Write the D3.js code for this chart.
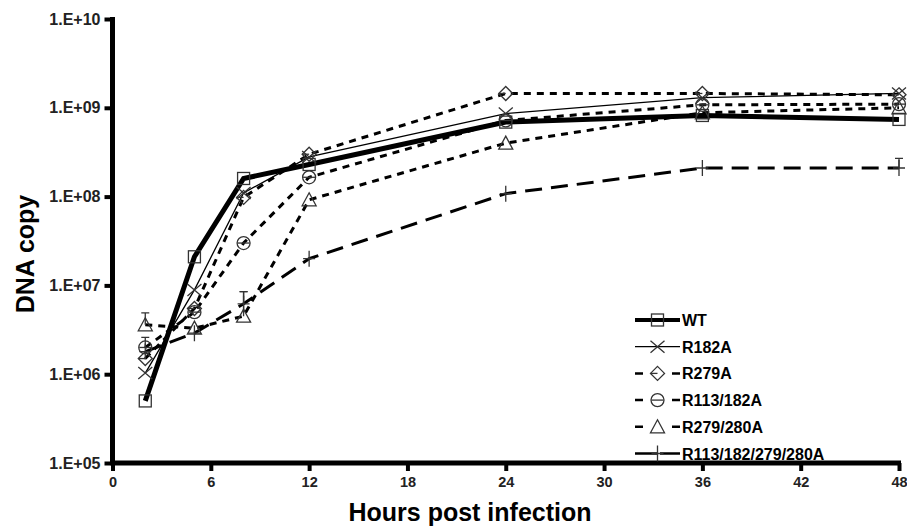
<!DOCTYPE html>
<html>
<head>
<meta charset="utf-8">
<script src="https://cdn.jsdelivr.net/npm/d3@7"></script>
<style>
  body { margin: 0; background: #fff; }
  svg text { font-family: "Liberation Sans", Arial, sans-serif; font-weight: bold; }
</style>
</head>
<body>
<div id="chart"></div>
<script>
// Hours post infection and DNA copy numbers
var hours = [2, 5, 8, 12, 24, 36, 48];

var wt        = [5.0e5, 2.1e7, 1.6e8, 2.3e8, 6.9e8, 8.2e8, 7.4e8];
var r182a     = [1.03e6, 8.9e6, 1.1e8, 2.8e8, 8.6e8, 1.3e9, 1.45e9];
var r279a     = [1.5e6, 5.5e6, 9.8e7, 3.0e8, 1.45e9, 1.45e9, 1.4e9];
var r113_182a = [2.0e6, 5.0e6, 3.0e7, 1.65e8, 7.2e8, 1.08e9, 1.1e9];
var r279_280a = [3.6e6, 3.3e6, 4.5e6, 9.2e7, 4.0e8, 8.8e8, 1.0e9];
var quad      = [1.8e6, 2.9e6, 6.2e6, 2.0e7, 1.08e8, 2.1e8, 2.1e8];

// upper ends of the error bars (null = none visible)
var wtErr        = [null, null, null, null, null, null, null];
var r182aErr     = [null, null, null, null, null, null, null];
var r279aErr     = [null, null, null, null, null, null, null];
var r113_182aErr = [2.6e6, null, null, null, null, null, null];
var r279_280aErr = [4.9e6, null, 8.5e6, null, null, null, null];
var quadErr      = [null, null, 8.5e6, null, null, null, 2.7e8];

var seriesNames = ["WT", "R182A", "R279A", "R113/182A", "R279/280A", "R113/182/279/280A"];
var xTicks = [0, 6, 12, 18, 24, 30, 36, 42, 48];
var yTicks = [1e5, 1e6, 1e7, 1e8, 1e9, 1e10];

var width = 907, height = 528;

var svg = d3.select("#chart").append("svg")
    .attr("width", width)
    .attr("height", height);

var x = d3.scaleLinear().domain([0, 48]).range([112.5, 899]);
var y = d3.scaleLog().domain([1e5, 1e10]).range([463, 19]);

// series table built from the arrays above
var series = [
    {name: seriesNames[0], vals: wt, err: wtErr, marker: "square", width: 5, dash: null},
    {name: seriesNames[1], vals: r182a, err: r182aErr, marker: "x", width: 1.3, dash: null},
    {name: seriesNames[2], vals: r279a, err: r279aErr, marker: "diamond", width: 3, dash: "7,6"},
    {name: seriesNames[3], vals: r113_182a, err: r113_182aErr, marker: "circle", width: 3, dash: "7,6"},
    {name: seriesNames[4], vals: r279_280a, err: r279_280aErr, marker: "triangle", width: 3, dash: "7,6"},
    {name: seriesNames[5], vals: quad, err: quadErr, marker: "plus", width: 3, dash: "17,9"}
];

function drawMarker(g, type) {
    var s = 6;
    var mk = g.append("g").attr("fill", "none").attr("stroke", "#333").attr("stroke-width", 1.3);
    if (type == "square") {
        mk.append("rect").attr("x", -s).attr("y", -s).attr("width", 2 * s).attr("height", 2 * s);
    } else if (type == "x") {
        mk.append("path").attr("d", "M-7,-6L7,6M-7,6L7,-6");
    } else if (type == "diamond") {
        mk.append("path").attr("d", "M0,-7L7,0L0,7L-7,0Z");
        mk.append("path").attr("d", "M-7,0L0,0");
    } else if (type == "circle") {
        mk.append("circle").attr("r", 6.5);
        mk.append("path").attr("d", "M-6,0L6,0");
    } else if (type == "triangle") {
        mk.append("path").attr("d", "M0,-7L7,6L-7,6Z");
    } else if (type == "plus") {
        mk.append("path").attr("d", "M0,-8L0,8M-6,0L6,0");
    }
}

// axes
var yAxis = d3.axisLeft(y)
    .tickValues(yTicks)
    .tickSize(8)
    .tickPadding(4)
    .tickFormat(function(d) { return "1.E+" + d3.format("02d")(Math.round(Math.log10(d))); });

var gy = svg.append("g")
    .attr("transform", "translate(" + x(0) + ",0)")
    .call(yAxis);
gy.select(".domain").attr("stroke-width", 5).attr("d", "M0," + (y(1e10) - 2) + "V" + (y(1e5) + 2));
gy.selectAll(".tick line").attr("stroke-width", 4);
gy.selectAll(".tick text").attr("font-size", 16).attr("fill", "#222");

var xAxis = d3.axisBottom(x)
    .tickValues(xTicks)
    .tickSize(8)
    .tickPadding(6);

var gx = svg.append("g")
    .attr("transform", "translate(0," + y(1e5) + ")")
    .call(xAxis);
gx.select(".domain").attr("stroke-width", 5).attr("d", "M" + (x(0) - 2) + ",0H" + (x(48) + 2));
gx.selectAll(".tick line").attr("stroke-width", 4);
gx.selectAll(".tick text").attr("font-size", 14.5).attr("fill", "#222");

// axis titles
svg.append("text")
    .attr("x", 470)
    .attr("y", 521)
    .attr("text-anchor", "middle")
    .attr("font-size", 25)
    .text("Hours post infection");

svg.append("text")
    .attr("transform", "translate(34,254) rotate(-90)")
    .attr("text-anchor", "middle")
    .attr("font-size", 25)
    .text("DNA copy");

// lines
var line = d3.line()
    .x(function(d) { return x(d[0]); })
    .y(function(d) { return y(d[1]); });

var drawOrder = [2, 3, 4, 5, 1, 0];
drawOrder.forEach(function(i) {
    var s = series[i];
    var pts = hours.map(function(h, j) { return [h, s.vals[j]]; });
    svg.append("path")
        .datum(pts)
        .attr("d", line)
        .attr("fill", "none")
        .attr("stroke", "#000")
        .attr("stroke-width", s.width)
        .attr("stroke-dasharray", s.dash);
});

// error bars and markers
series.forEach(function(s) {
    hours.forEach(function(h, j) {
        if (s.err[j] != null) {
            svg.append("path")
                .attr("d", "M" + x(h) + "," + y(s.vals[j]) + "V" + y(s.err[j]) +
                      "M" + (x(h) - 4) + "," + y(s.err[j]) + "H" + (x(h) + 4))
                .attr("stroke", "#333")
                .attr("stroke-width", 1.3)
                .attr("fill", "none");
        }
        var g = svg.append("g").attr("transform", "translate(" + x(h) + "," + y(s.vals[j]) + ")");
        drawMarker(g, s.marker);
    });
});

// legend
var legend = svg.append("g").attr("transform", "translate(635,320)");
series.forEach(function(s, i) {
    var row = legend.append("g").attr("transform", "translate(0," + (i * 26.7) + ")");
    var dash = s.dash ? "8,29" : null;
    if (s.marker == "plus") dash = "22,3,20";
    row.append("line")
        .attr("x1", 0).attr("x2", 45)
        .attr("y1", 0).attr("y2", 0)
        .attr("stroke", "#000")
        .attr("stroke-width", s.marker == "square" ? 4 : (s.dash ? 2.5 : 1.3))
        .attr("stroke-dasharray", dash);
    var m = row.append("g").attr("transform", "translate(22.5,0)");
    drawMarker(m, s.marker);
    row.append("text")
        .attr("x", 47)
        .attr("y", 6)
        .attr("font-size", 16)
        .text(s.name);
});
</script>
</body>
</html>
